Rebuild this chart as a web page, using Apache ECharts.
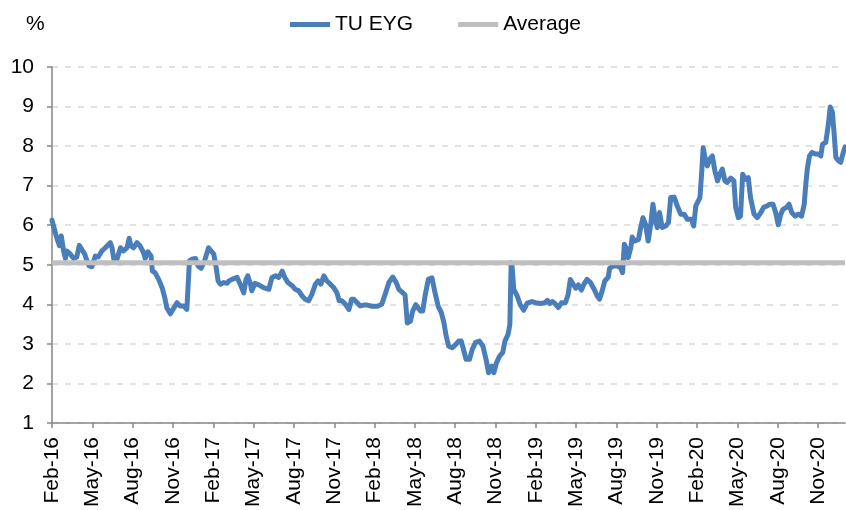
<!DOCTYPE html>
<html>
<head>
<meta charset="utf-8">
<script src="https://cdn.jsdelivr.net/npm/echarts@6/dist/echarts.min.js"></script>
<style>
html,body{margin:0;padding:0;background:#fff;}
#chart{width:846px;height:510px;}
</style>
</head>
<body>
<div id="chart"></div>
<script>
// ---- data ----
var seriesNames = ['TU EYG', 'Average'];
var tickLabels = ['Feb-16','May-16','Aug-16','Nov-16','Feb-17','May-17','Aug-17','Nov-17','Feb-18','May-18','Aug-18','Nov-18','Feb-19','May-19','Aug-19','Nov-19','Feb-20','May-20','Aug-20','Nov-20'];
var averageValue = 5.05;
var dates = [
'2016-02-01','2016-02-07','2016-02-12','2016-02-17','2016-02-21','2016-02-26','2016-03-01','2016-03-04','2016-03-12','2016-03-20',
'2016-03-27','2016-04-02','2016-04-08','2016-04-14','2016-04-19','2016-04-24','2016-04-30','2016-05-04','2016-05-08','2016-05-15',
'2016-05-23','2016-05-31','2016-06-11','2016-06-15','2016-06-19','2016-06-26','2016-07-04','2016-07-11','2016-07-19','2016-07-24',
'2016-07-28','2016-08-03','2016-08-11','2016-08-18','2016-08-26','2016-08-30','2016-09-05','2016-09-12','2016-09-15','2016-09-21',
'2016-09-29','2016-10-07','2016-10-13','2016-10-18','2016-10-26','2016-11-03','2016-11-10','2016-11-17','2016-11-25','2016-12-02',
'2016-12-08','2016-12-14','2016-12-22','2016-12-28','2017-01-04','2017-01-12','2017-01-21','2017-01-25','2017-02-02','2017-02-07',
'2017-02-11','2017-02-16','2017-02-23','2017-03-02','2017-03-06','2017-03-13','2017-03-25','2017-04-01','2017-04-09','2017-04-14',
'2017-04-18','2017-04-24','2017-04-27','2017-05-04','2017-05-13','2017-05-24','2017-06-05','2017-06-12','2017-06-20','2017-06-27',
'2017-07-05','2017-07-11','2017-07-18','2017-07-28','2017-08-04','2017-08-12','2017-08-20','2017-08-27','2017-09-04','2017-09-11',
'2017-09-19','2017-09-25','2017-10-01','2017-10-08','2017-10-15','2017-10-23','2017-10-31','2017-11-07','2017-11-12','2017-11-18',
'2017-11-26','2017-12-04','2017-12-10','2017-12-15','2017-12-23','2017-12-30','2018-01-07','2018-01-15','2018-01-19','2018-01-26',
'2018-02-07','2018-02-16','2018-02-23','2018-03-03','2018-03-12','2018-03-20','2018-03-26','2018-04-03','2018-04-09','2018-04-14',
'2018-04-21','2018-04-26','2018-05-03','2018-05-09','2018-05-14','2018-05-19','2018-05-25','2018-06-01','2018-06-09','2018-06-15',
'2018-06-23','2018-06-30','2018-07-06','2018-07-11','2018-07-17','2018-07-25','2018-08-02','2018-08-09','2018-08-15','2018-08-21',
'2018-08-26','2018-09-03','2018-09-09','2018-09-16','2018-09-25','2018-10-03','2018-10-10','2018-10-16','2018-10-23','2018-10-28',
'2018-11-03','2018-11-10','2018-11-17','2018-11-22','2018-11-29','2018-12-03','2018-12-06','2018-12-08','2018-12-12','2018-12-20',
'2018-12-27','2019-01-04','2019-01-12','2019-01-23','2019-01-31','2019-02-11','2019-02-20','2019-02-25','2019-03-02','2019-03-08',
'2019-03-14','2019-03-22','2019-03-29','2019-04-07','2019-04-13','2019-04-18','2019-04-24','2019-04-30','2019-05-06','2019-05-13',
'2019-05-19','2019-05-26','2019-06-03','2019-06-11','2019-06-18','2019-06-23','2019-06-29','2019-07-05','2019-07-13','2019-07-16',
'2019-07-24','2019-08-03','2019-08-10','2019-08-15','2019-08-19','2019-08-24','2019-08-28','2019-09-03','2019-09-06','2019-09-12',
'2019-09-20','2019-09-25','2019-09-30','2019-10-06','2019-10-12','2019-10-18','2019-10-23','2019-10-29','2019-11-02','2019-11-07',
'2019-11-13','2019-11-21','2019-11-27','2019-12-02','2019-12-10','2019-12-17','2019-12-25','2020-01-02','2020-01-09','2020-01-13',
'2020-01-19','2020-01-24','2020-01-29','2020-02-07','2020-02-11','2020-02-14','2020-02-18','2020-02-23','2020-02-28','2020-03-05',
'2020-03-11','2020-03-17','2020-03-22','2020-03-28','2020-04-03','2020-04-08','2020-04-16','2020-04-23','2020-04-27','2020-05-03',
'2020-05-08','2020-05-13','2020-05-20','2020-05-26','2020-05-31','2020-06-08','2020-06-15','2020-06-23','2020-06-30','2020-07-08',
'2020-07-13','2020-07-21','2020-07-27','2020-08-02','2020-08-08','2020-08-13','2020-08-21','2020-08-27','2020-09-02','2020-09-10',
'2020-09-17','2020-09-24','2020-09-30','2020-10-03','2020-10-07','2020-10-12','2020-10-18','2020-10-26','2020-11-02','2020-11-07',
'2020-11-11','2020-11-18','2020-11-24','2020-11-28','2020-12-03','2020-12-07','2020-12-11','2020-12-17','2020-12-22','2020-12-27',
'2021-01-01'
];
var eyg = [
6.13,5.86,5.65,5.48,5.73,5.35,5.16,5.35,5.27,5.16,
5.19,5.49,5.38,5.27,5.10,4.97,4.95,4.99,5.22,5.20,
5.35,5.43,5.56,5.43,5.14,5.14,5.43,5.35,5.43,5.67,
5.48,5.43,5.56,5.48,5.31,5.16,5.33,5.22,4.84,4.80,
4.63,4.42,4.17,3.91,3.76,3.91,4.04,3.96,3.96,3.87,
5.10,5.14,5.16,4.97,4.91,5.10,5.43,5.45,5.27,4.93,
4.59,4.51,4.55,4.53,4.59,4.63,4.68,4.51,4.29,4.63,
4.72,4.51,4.34,4.53,4.49,4.42,4.38,4.68,4.72,4.68,
4.84,4.68,4.55,4.47,4.38,4.34,4.21,4.13,4.09,4.25,
4.51,4.59,4.51,4.72,4.59,4.51,4.42,4.29,4.09,4.09,
4.00,3.87,4.13,4.13,4.04,3.96,3.98,3.98,3.99,3.95,
3.95,4.00,4.25,4.55,4.69,4.55,4.38,4.30,4.24,3.53,
3.57,3.83,3.99,3.90,3.83,3.83,4.25,4.63,4.67,4.34,
3.95,3.79,3.53,3.20,2.94,2.90,2.98,3.07,3.07,2.82,
2.61,2.61,2.86,3.03,3.07,2.94,2.61,2.27,2.44,2.27,
2.52,2.69,2.78,3.07,3.24,3.49,5.05,4.99,4.38,4.21,
3.99,3.85,4.03,4.07,4.04,4.02,4.04,4.10,4.02,4.07,
4.02,3.92,4.04,4.04,4.25,4.63,4.51,4.41,4.49,4.36,
4.51,4.63,4.55,4.38,4.21,4.13,4.34,4.59,4.69,4.91,
4.97,4.97,4.93,4.80,5.52,5.40,5.18,5.44,5.70,5.60,
5.64,5.94,6.19,6.02,5.60,6.02,6.53,6.10,5.94,6.32,
5.94,5.98,6.07,6.70,6.71,6.49,6.28,6.28,6.15,6.10,
6.15,5.98,6.49,6.70,7.37,7.96,7.71,7.50,7.67,7.75,
7.37,7.12,7.29,7.42,7.12,7.08,7.19,7.12,6.45,6.19,
6.23,7.29,7.16,7.20,6.70,6.28,6.19,6.32,6.46,6.49,
6.53,6.53,6.32,6.01,6.28,6.40,6.45,6.53,6.32,6.23,
6.28,6.23,6.53,6.96,7.42,7.75,7.84,7.80,7.80,7.75,
8.05,8.09,8.56,8.99,8.85,8.30,7.71,7.63,7.59,7.80,
7.98
];

// months elapsed since 1 Feb 2016 (fractional)
function monthIndex(s) {
  var p = s.split('-').map(Number);
  var dim = new Date(p[0], p[1], 0).getDate();
  return (p[0] - 2016) * 12 + (p[1] - 2) + (p[2] - 1) / dim;
}
var xMax = monthIndex('2021-01-01');
var lineData = dates.map(function (d, i) { return [monthIndex(d), eyg[i]]; });
var avgData = [[0, averageValue], [xMax, averageValue]];

var FONT = '"Liberation Sans", Arial, Helvetica, sans-serif';
var FS = 21;
var chart = echarts.init(document.getElementById('chart'), null, {renderer: 'canvas'});
chart.setOption({
  animation: false,
  backgroundColor: '#ffffff',
  textStyle: {fontFamily: FONT},
  title: {
    text: '%', left: 21, top: 9,
    textStyle: {fontSize: FS, fontWeight: 'normal', color: '#000', fontFamily: FONT}
  },
  legend: {
    left: 285, top: 9,
    itemWidth: 40, itemHeight: 5, itemGap: 45,
    icon: 'rect',
    textStyle: {fontSize: FS, color: '#000', fontFamily: FONT},
    data: seriesNames
  },
  grid: {left: 52, right: 1, top: 67, bottom: 87, containLabel: false},
  xAxis: {
    type: 'value', min: 0, max: xMax, interval: 3,
    axisLine: {show: true, lineStyle: {color: '#868686', width: 1.5}},
    axisTick: {show: true, inside: false, length: 5, lineStyle: {color: '#868686', width: 1.5}},
    splitLine: {show: false},
    axisLabel: {
      rotate: 90, margin: 14, fontSize: FS, color: '#000', fontFamily: FONT,
      showMaxLabel: false,
      formatter: function (v) {
        var k = Math.round(v / 3);
        return (Math.abs(v - k * 3) < 1e-6 && tickLabels[k]) ? tickLabels[k] : '';
      }
    }
  },
  yAxis: {
    type: 'value', min: 1, max: 10, interval: 1,
    axisLine: {show: true, lineStyle: {color: '#868686', width: 1.5}},
    axisTick: {show: true, inside: false, length: 5, lineStyle: {color: '#868686', width: 1.5}},
    splitLine: {show: true, lineStyle: {color: '#d9d9d9', width: 1.5, type: [6, 7]}},
    axisLabel: {margin: 18, fontSize: FS, color: '#000', fontFamily: FONT}
  },
  series: [
    {
      name: seriesNames[0], type: 'line', data: lineData,
      showSymbol: false, symbol: 'none',
      lineStyle: {color: '#4a7ebb', width: 5, join: 'round', cap: 'round'},
      itemStyle: {color: '#4a7ebb'}
    },
    {
      name: seriesNames[1], type: 'line', data: avgData,
      showSymbol: false, symbol: 'none',
      lineStyle: {color: '#bfbfbf', width: 5},
      itemStyle: {color: '#bfbfbf'}
    }
  ]
});
</script>
</body>
</html>
